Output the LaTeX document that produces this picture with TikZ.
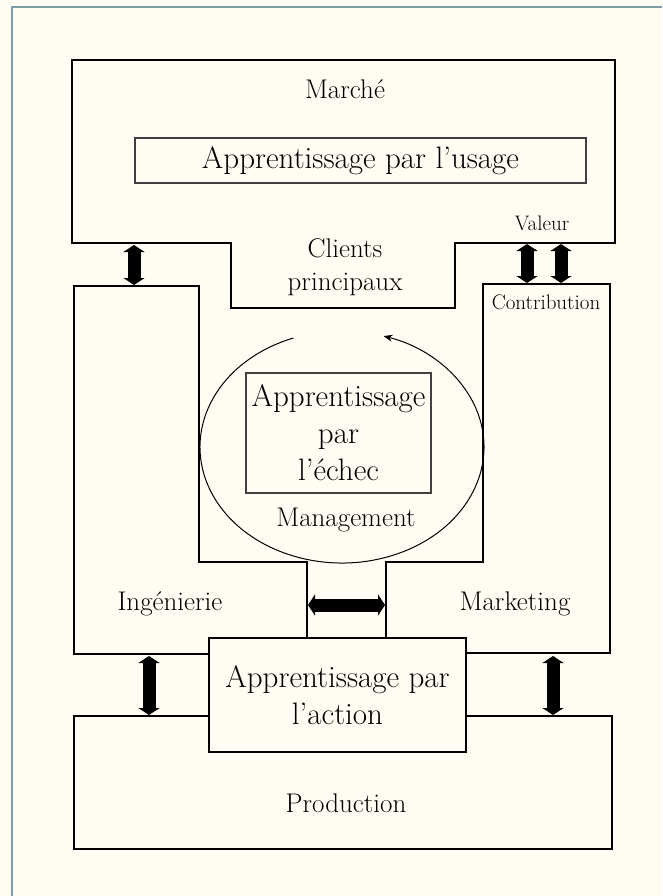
\documentclass[tikz,border=0pt]{standalone}
\usepackage{fontspec}
\usetikzlibrary{arrows.meta}
\definecolor{bg}{HTML}{FFFDF3}
\definecolor{framecol}{HTML}{7C9CA6}
\tikzset{
  thickline/.style={line width=2pt, draw=black},
  thinbox/.style={line width=1.2pt, draw=black!75},
  dblarrow/.style={line width=13pt, {Triangle[length=7pt,width=21pt]}-{Triangle[length=7pt,width=21pt]}},
  lbl/.style={font=\fontsize{27}{33}\selectfont, align=center, inner sep=0pt},
  biglbl/.style={font=\fontsize{31}{37}\selectfont, align=center, inner sep=0pt},
  smalllbl/.style={font=\fontsize{21}{24}\selectfont, inner sep=0pt},
}
\begin{document}
\begin{tikzpicture}[x=1pt,y=-1pt]
\fill[bg] (0,0) rectangle (662,896);
\useasboundingbox (0,0) rectangle (662,896);
\draw[framecol, line width=1.5pt] (12,896) -- (12,7) -- (662,7);

% Marché (market) shape
\draw[thickline] (72,60) -- (615,60) -- (615,243) -- (455,243) -- (455,308)
  -- (231,308) -- (231,243) -- (72,243) -- cycle;

% organisation shape (Ingénierie / Management / Marketing)
\draw[thickline] (209,654) -- (74,654) -- (74,286) -- (199,286) -- (199,562)
  -- (307,562) -- (307,639);
\draw[thickline] (386,639) -- (386,562) -- (483,562) -- (483,284) -- (610,284)
  -- (610,653) -- (466,653);

% Production
\draw[thickline] (74,716) rectangle (612,849);

% Apprentissage par l'action
\node[thickline, fill=bg, biglbl, minimum width=257pt, minimum height=114pt]
  (action) at (337.5,695) {Apprentissage par\\l’action};

% texts of the market
\node[lbl] (marche) at (345,89) {Marché};
\node[thinbox, biglbl, minimum width=451pt, minimum height=45pt]
  (usage) at (360.5,160.5) {Apprentissage par l’usage};
\node[smalllbl] (valeur) at (542,223) {Valeur};
\node[lbl] (clients) at (345,267) {Clients\\principaux};
\node[smalllbl] (contrib) at (546,302) {Contribution};

% Management loop
\coordinate (ellc) at (342,447);
\draw[line width=1pt, -{Stealth[length=9pt,width=7pt]}]
  ([shift={(250:142 and 116)}]ellc) arc[start angle=250, end angle=-73, x radius=142, y radius=116];
\node[thinbox, biglbl, minimum width=185pt, minimum height=120pt]
  (echec) at (338.5,433) {Apprentissage\\par\\l’échec};
\node[lbl] (mgmt) at (346,520) {Management};

\node[lbl] (inge) at (170,604) {Ingénierie};
\node[lbl] (mkt) at (515,604) {Marketing};
\node[lbl] (prod) at (346,803) {Production};

% double arrows
\coordinate (a1s) at (134,245); \coordinate (a1e) at (134,285);
\coordinate (a2s) at (527,244); \coordinate (a2e) at (527,283);
\coordinate (a3s) at (561,244); \coordinate (a3e) at (561,283);
\coordinate (a4s) at (308,605); \coordinate (a4e) at (385,605);
\coordinate (a5s) at (149,656); \coordinate (a5e) at (149,715);
\coordinate (a6s) at (553,656); \coordinate (a6e) at (553,715);
\draw[dblarrow] (a1s) -- (a1e);
\draw[dblarrow] (a2s) -- (a2e);
\draw[dblarrow] (a3s) -- (a3e);
\draw[dblarrow] (a4s) -- (a4e);
\draw[dblarrow] (a5s) -- (a5e);
\draw[dblarrow] (a6s) -- (a6e);
\end{tikzpicture}
\end{document}
